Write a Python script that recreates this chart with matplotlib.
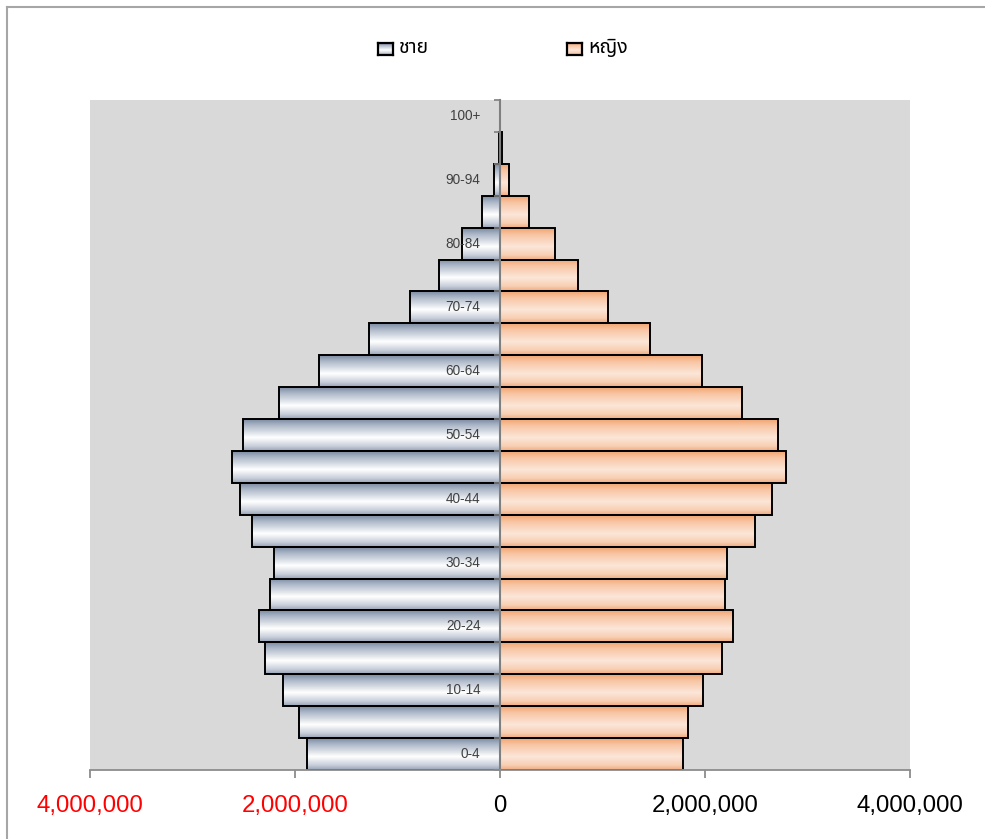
import numpy as np
import matplotlib
matplotlib.use("Agg")
import matplotlib.pyplot as plt
from matplotlib import font_manager, ft2font
from matplotlib.colors import LinearSegmentedColormap
from matplotlib.lines import Line2D

# Population by five-year age group
age_groups = ["0-4", "5-9", "10-14", "15-19", "20-24", "25-29", "30-34",
              "35-39", "40-44", "45-49", "50-54", "55-59", "60-64", "65-69",
              "70-74", "75-79", "80-84", "85-89", "90-94", "95-99", "100+"]
male = [1887000, 1959000, 2114000, 2288000, 2356000, 2241000, 2209000,
        2416000, 2534000, 2613000, 2504000, 2154000, 1762000, 1281000,
        875000, 592000, 371000, 179000, 59000, 11000, 1500]
female = [1783000, 1834000, 1985000, 2166000, 2271000, 2191000, 2210000,
          2488000, 2658000, 2790000, 2711000, 2365000, 1971000, 1466000,
          1051000, 764000, 537000, 286000, 91000, 22000, 3000]
legend_labels = ["ชาย", "หญิง"]
tick_values = [-4000000, -2000000, 0, 2000000, 4000000]
tick_labels = ["4,000,000", "2,000,000", "0", "2,000,000", "4,000,000"]


def family_with(char, preferred):
    names = []
    for f in font_manager.fontManager.ttflist:
        try:
            if ord(char) in ft2font.FT2Font(f.fname).get_charmap():
                names.append(f.name)
        except Exception:
            continue
    for p in preferred:
        if p in names:
            return p
    return names[0] if names else "DejaVu Sans"


thai_font = family_with("ช", ["Tahoma", "Noto Sans Thai", "Noto Sans Thai UI",
                              "Loma", "Garuda", "Norasi", "Sarabun"])
plt.rcParams["font.family"] = ["Liberation Sans", "DejaVu Sans"]

male_stops = [(0.0, "#7b8ba4"), (0.18, "#aab5c6"), (0.58, "#ffffff"),
              (0.85, "#c9d0db"), (1.0, "#96a3b7")]
female_stops = [(0.0, "#f2a470"), (0.2, "#f7c5a3"), (0.58, "#fce6d9"),
                (0.85, "#f8cfb3"), (1.0, "#f2ab7d")]


def gradient(stops, n=96):
    cmap = LinearSegmentedColormap.from_list("g", stops)
    return cmap(np.linspace(0, 1, n))[:, None, :]


grad_m = gradient(male_stops)
grad_f = gradient(female_stops)

W, H = 985, 839
fig = plt.figure(figsize=(W / 100, H / 100), dpi=100)
ax = fig.add_axes([90 / W, (H - 770) / H, 820 / W, 670 / H])
ax.set_facecolor("#d9d9d9")

y = np.arange(len(age_groups))
male_bars = ax.barh(y, -np.array(male, dtype=float), height=1.0,
                    facecolor="none", edgecolor="black", linewidth=1.4, zorder=1)
female_bars = ax.barh(y, np.array(female, dtype=float), height=1.0,
                      facecolor="none", edgecolor="black", linewidth=1.4, zorder=1)

for bars, grad in ((male_bars, grad_m), (female_bars, grad_f)):
    for bar in bars:
        x0 = bar.get_x()
        x1 = x0 + bar.get_width()
        y0 = bar.get_y()
        y1 = y0 + bar.get_height()
        ax.imshow(grad, extent=(min(x0, x1), max(x0, x1), y0, y1),
                  origin="upper", aspect="auto", interpolation="bilinear",
                  zorder=0.8)

ax.set_xlim(-4000000, 4000000)
ax.set_ylim(-0.5, len(age_groups) - 0.5)

for side in ("top", "right"):
    ax.spines[side].set_visible(False)
ax.spines["left"].set_position(("data", 0))
ax.spines["left"].set_color("#7f7f7f")
ax.spines["left"].set_linewidth(1.5)
ax.spines["bottom"].set_color("#8c8c8c")
ax.spines["bottom"].set_linewidth(1.3)

ax.set_yticks(y[::2])
ax.set_yticklabels(age_groups[::2])
ax.set_yticks(np.arange(-0.5, len(age_groups), 1.0), minor=True)
ax.tick_params(axis="y", which="major", length=0, pad=14, labelsize=9.8,
               labelcolor="#404040")
for lbl in ax.get_yticklabels():
    lbl.set_verticalalignment("center")
ax.tick_params(axis="y", which="minor", length=4, width=1.2,
               color="#7f7f7f", direction="out")

ax.set_xticks(tick_values)
ax.set_xticklabels(tick_labels)
ax.tick_params(axis="x", length=6, width=1.3, color="#8c8c8c",
               direction="out", pad=12, labelsize=17.3)
for lbl, v in zip(ax.get_xticklabels(), tick_values):
    lbl.set_color("#ff0000" if v < 0 else "black")

# legend swatches with the same shading as the bars
for (px, tx), grad, label in zip(((378, 399), (567, 588)), (grad_m, grad_f),
                                  legend_labels):
    sw = fig.add_axes([px / W, 1 - 55 / H, 15 / W, 12 / H])
    sw.imshow(grad, extent=(0, 1, 0, 1), origin="upper", aspect="auto",
              interpolation="bilinear")
    sw.set_xticks([])
    sw.set_yticks([])
    for s in sw.spines.values():
        s.set_color("black")
        s.set_linewidth(1.6)
    fig.text(tx / W, 1 - 48 / H, label, ha="left", va="center",
             fontsize=14, color="black", family=[thai_font, "DejaVu Sans"])

# chart frame
frame = dict(transform=fig.transFigure, color="#a6a6a6", linewidth=1.5)
fig.add_artist(Line2D([6.5 / W, 1], [1 - 6.5 / H, 1 - 6.5 / H], **frame))
fig.add_artist(Line2D([6.5 / W, 6.5 / W], [0, 1 - 6.5 / H], **frame))

fig.savefig("out.png", dpi=100, facecolor="white")
